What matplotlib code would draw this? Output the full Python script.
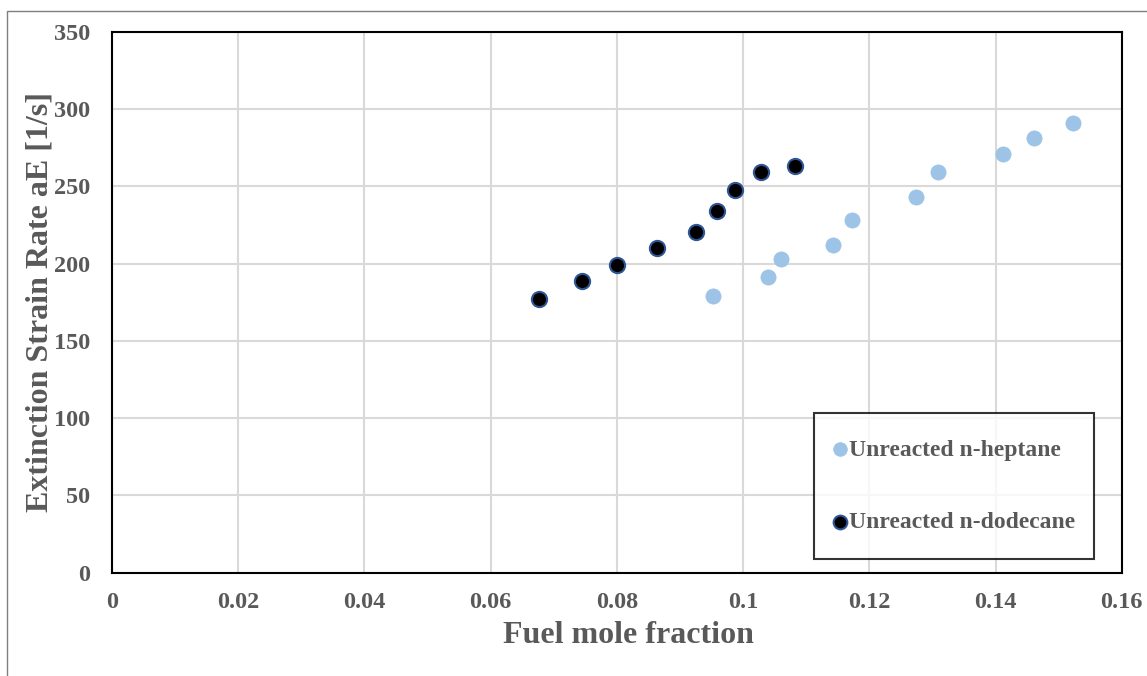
import matplotlib
matplotlib.use("Agg")
import matplotlib.pyplot as plt
from matplotlib.patches import Rectangle

heptane_x = [0.0953, 0.1039, 0.1060, 0.1143, 0.1173, 0.1274, 0.1309, 0.1412, 0.1461, 0.1523]
heptane_y = [179.0, 191.3, 203.0, 211.9, 228.2, 243.3, 259.3, 270.9, 281.3, 291.2]
dodecane_x = [0.0677, 0.0745, 0.0800, 0.0864, 0.0926, 0.0959, 0.0987, 0.1028, 0.1082]
dodecane_y = [176.9, 188.6, 198.9, 210.1, 220.7, 234.0, 247.6, 259.5, 262.9]
x_ticks = [0, 0.02, 0.04, 0.06, 0.08, 0.1, 0.12, 0.14, 0.16]
x_tick_labels = ["0", "0.02", "0.04", "0.06", "0.08", "0.1", "0.12", "0.14", "0.16"]
y_ticks = [0, 50, 100, 150, 200, 250, 300, 350]

gray = "#595959"
plt.rcParams['font.family'] = ['Liberation Serif', 'DejaVu Serif']
plt.rcParams['font.weight'] = 'bold'

fig = plt.figure(figsize=(11.47, 6.76), dpi=100)
fig.patches.append(Rectangle((7/1147, -0.1), 1.2, 1 - 11/676 + 0.1, transform=fig.transFigure,
                             fill=False, edgecolor="#7f7f7f", linewidth=1.0))
ax = fig.add_axes([0.0975, 0.1531, 0.978 - 0.0975, 0.9527 - 0.1531])

ax.scatter(heptane_x, heptane_y, s=120, color="#9DC3E6", edgecolors="#9DC3E6",
           linewidths=0.5, zorder=3, label="Unreacted n-heptane")
ax.scatter(dodecane_x, dodecane_y, s=120, color="black", edgecolors="#2F5597",
           linewidths=1.5, zorder=3, label="Unreacted n-dodecane")

ax.set_xlim(0, 0.16)
ax.set_ylim(0, 350)
ax.set_xticks(x_ticks)
ax.set_xticklabels(x_tick_labels)
ax.set_yticks(y_ticks)
ax.grid(True, color="#D9D9D9", linewidth=1.5, zorder=0)
ax.set_axisbelow(True)
for s in ax.spines.values():
    s.set_color("black")
    s.set_linewidth(1.5)
ax.tick_params(length=0, labelsize=17.5, labelcolor=gray)
ax.tick_params(axis='y', pad=15.5)
ax.tick_params(axis='x', pad=14)
for lab in ax.get_xticklabels() + ax.get_yticklabels():
    lab.set_fontweight('bold')

ax.set_xlabel("Fuel mole fraction", fontsize=23, color=gray, fontweight='bold')
ax.set_ylabel("Extinction Strain Rate aE [1/s]", fontsize=23, color=gray, fontweight='bold')
ax.xaxis.set_label_coords(0.512, -0.130, transform=ax.transAxes)
ax.yaxis.set_label_coords(-0.071, 0.5, transform=ax.transAxes)
ax.xaxis.label.set_va('baseline')
ax.yaxis.label.set_va('center')

leg = ax.legend(loc="upper left", bbox_to_anchor=(0.695, 0.0287, 0.2774, 0.2663), mode="expand",
                frameon=True, fancybox=False,
                edgecolor="black", fontsize=17, labelspacing=2.15, handletextpad=0.35,
                borderpad=1.1, borderaxespad=0.0, handlelength=0.05, markerscale=0.9)
leg.get_frame().set_linewidth(1.5)
for t in leg.get_texts():
    t.set_color(gray)
    t.set_fontweight('bold')

fig.savefig("out.png", dpi=100)
